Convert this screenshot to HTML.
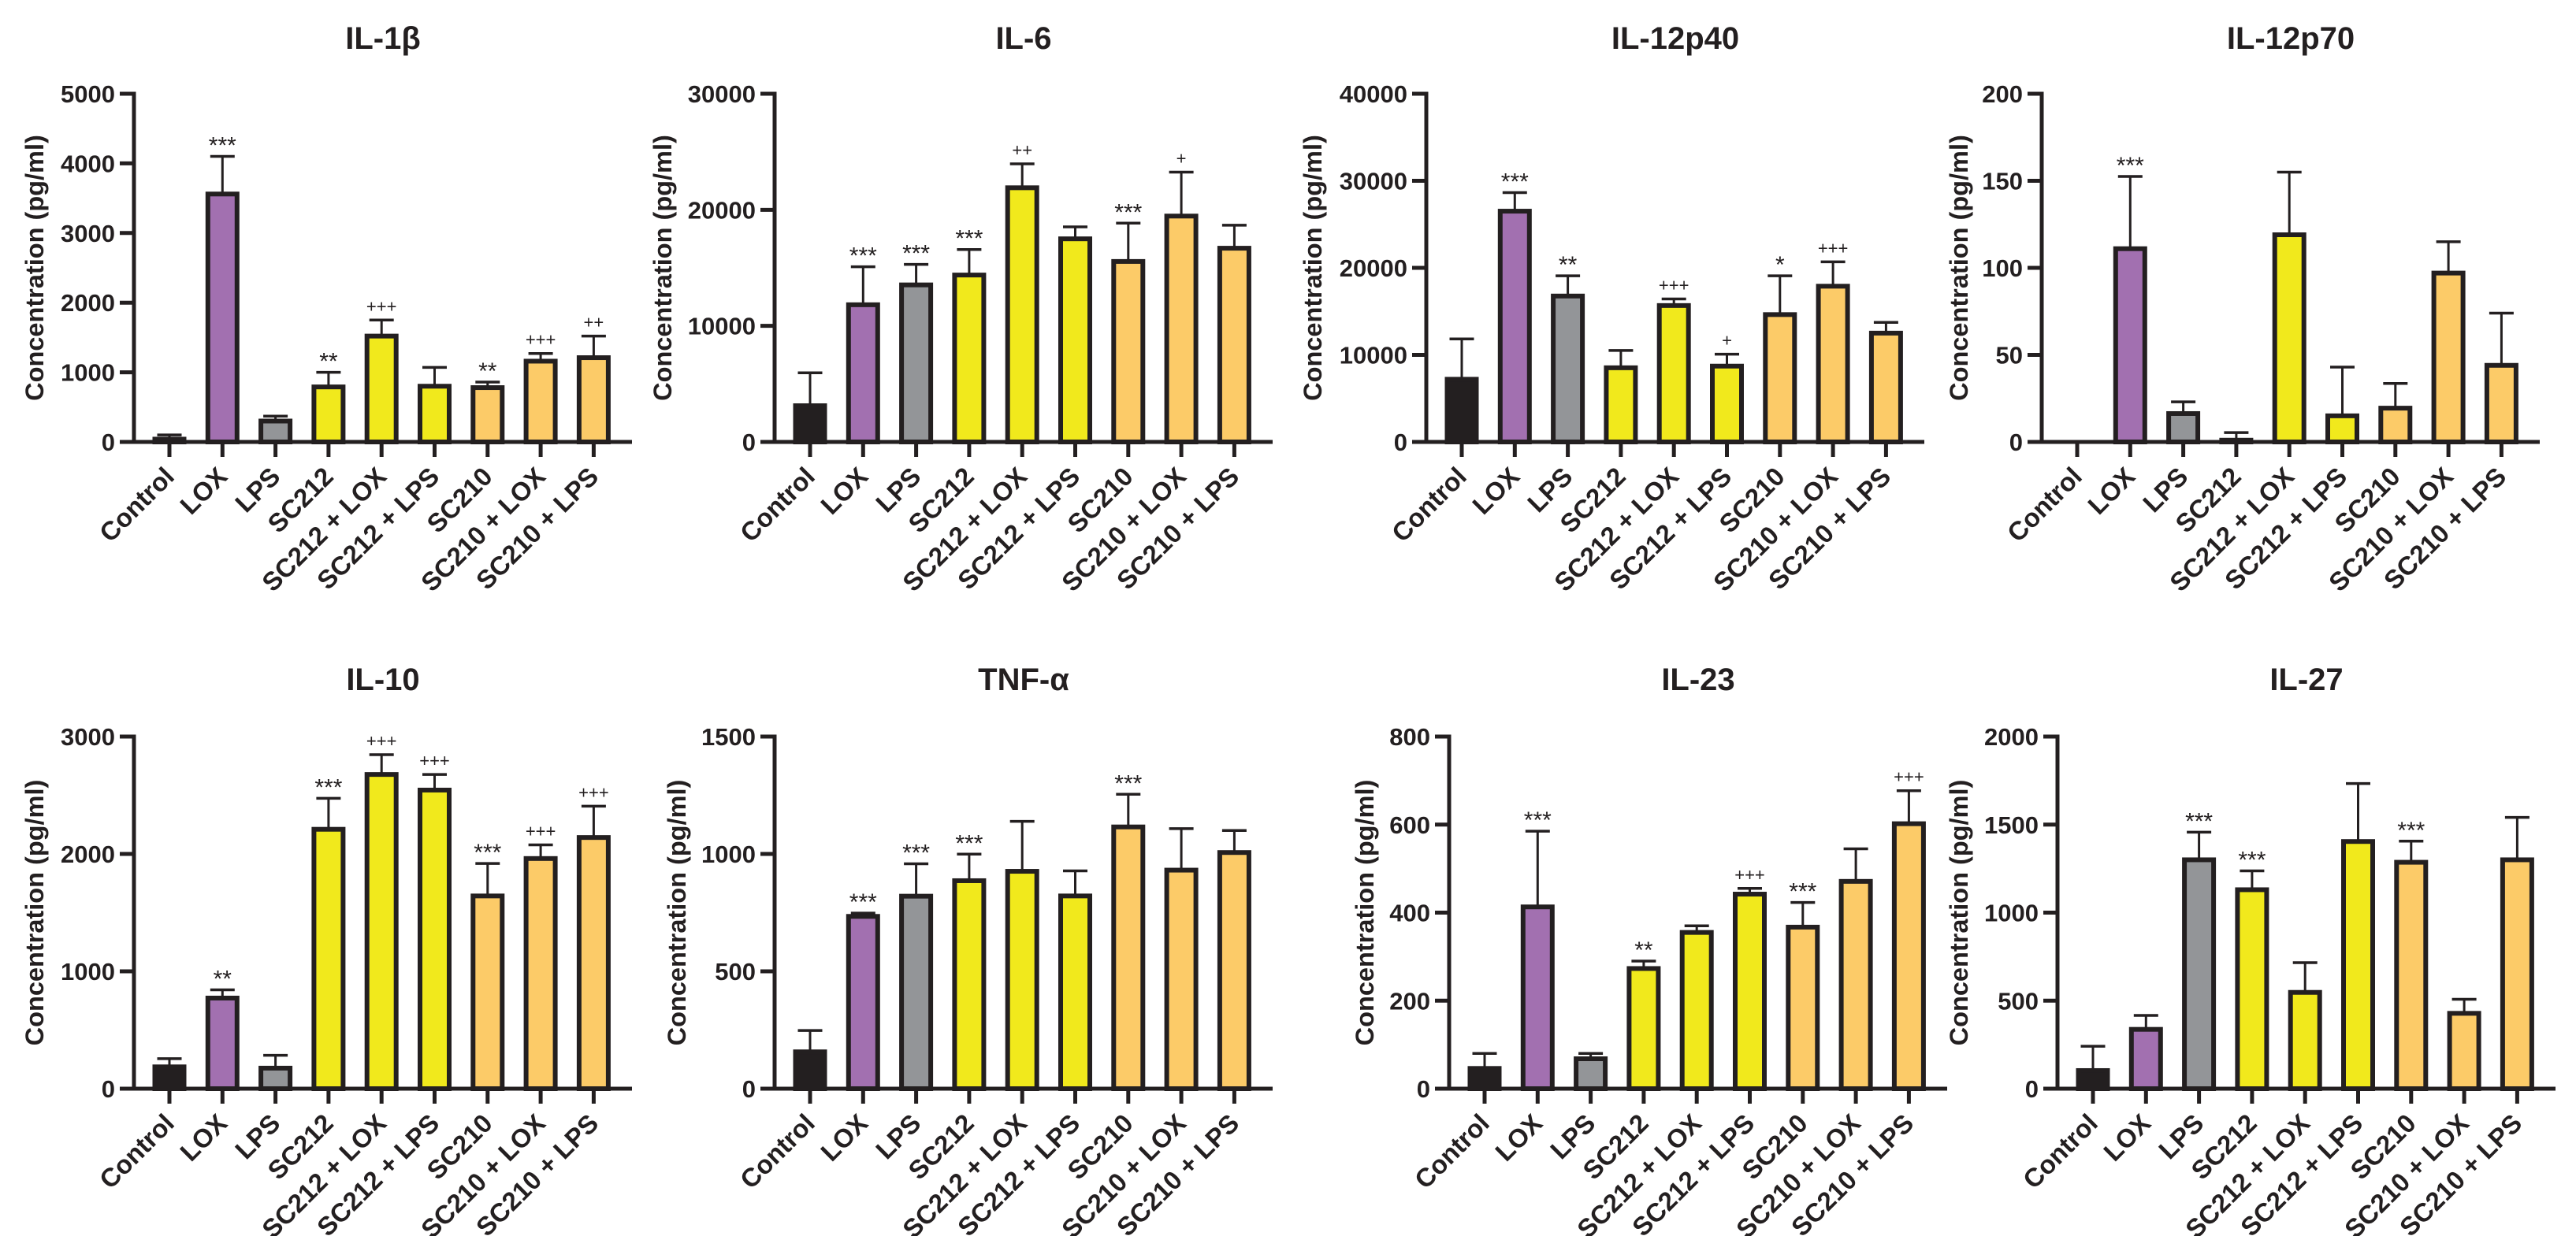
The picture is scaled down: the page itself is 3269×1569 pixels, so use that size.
<!DOCTYPE html>
<html><head><meta charset="utf-8"><style>
html,body{margin:0;padding:0;background:#fff;}
svg{display:block;font-family:"Liberation Sans",Arial,sans-serif;}
</style></head><body>
<svg id="fig" width="3269" height="1569" viewBox="0 0 3269 1569" xmlns="http://www.w3.org/2000/svg"></svg>
<script>
const categories = ["Control","LOX","LPS","SC212","SC212 + LOX","SC212 + LPS","SC210","SC210 + LOX","SC210 + LPS"];
const barColors = ["#231f20","#a270b0","#939598","#f1e91c","#f1e91c","#f1e91c","#fccb68","#fccb68","#fccb68"];

const il1bValues = [40,3560,300,790,1520,800,780,1160,1210];
const il1bErrors = [100,4100,370,1000,1750,1070,860,1270,1520];
const il1bSig = ["","***","","**","+++","","**","+++","++"];
const il1bTicks = [0,1000,2000,3000,4000,5000];

const il6Values = [3120,11820,13530,14380,21900,17500,15550,19460,16690];
const il6Errors = [5960,15090,15300,16580,23960,18530,18850,23250,18670];
const il6Sig = ["","***","***","***","++","","***","+",""];
const il6Ticks = [0,10000,20000,30000];

const il12p40Values = [7200,26510,16760,8520,15670,8710,14630,17890,12500];
const il12p40Errors = [11830,28640,19080,10510,16430,10080,19080,20690,13730];
const il12p40Sig = ["","***","**","","+++","+","*","+++",""];
const il12p40Ticks = [0,10000,20000,30000,40000];

const il12p70Values = [0,111,16.3,1,119,15,19.4,97,44];
const il12p70Errors = [0,152.5,23,5.4,155,43,33.6,115,74];
const il12p70Sig = ["","***","","","","","","",""];
const il12p70Ticks = [0,50,100,150,200];

const il10Values = [186,772,175,2210,2677,2544,1642,1961,2140];
const il10Errors = [256,842,284,2474,2846,2677,1919,2077,2407];
const il10Sig = ["","**","","***","+++","+++","***","+++","+++"];
const il10Ticks = [0,1000,2000,3000];

const tnfValues = [157,734,820,886,926,821,1115,931,1006];
const tnfErrors = [248,748,958,999,1139,928,1254,1108,1100];
const tnfSig = ["","***","***","***","","","***","",""];
const tnfTicks = [0,500,1000,1500];

const il23Values = [46,413,68,273,355,442,367,471,602];
const il23Errors = [80,585,80,290,370,455,423,545,677];
const il23Sig = ["","***","","**","","+++","***","","+++"];
const il23Ticks = [0,200,400,600,800];

const il27Values = [103,337,1300,1130,547,1404,1286,428,1300];
const il27Errors = [241,416,1457,1237,716,1733,1406,508,1541];
const il27Sig = ["","","***","***","","","***","",""];
const il27Ticks = [0,500,1000,1500,2000];

const NS = "http://www.w3.org/2000/svg";
const svg = document.getElementById("fig");
function mk(tag, attrs, parent, text){
  const e = document.createElementNS(NS, tag);
  for (const k in attrs) e.setAttribute(k, attrs[k]);
  if (text !== undefined) e.textContent = text;
  parent.appendChild(e);
  return e;
}
const INK = "#231f20";

function drawPanel(key, title, ax, top, zero, titleY, ytX, values, errors, sig, ticks){
  const g = mk("g", {}, svg);
  
  
  const ymax = ticks[ticks.length-1];
  const yScale = v => zero - (v / ymax) * (zero - top);
  const step = 67.3, x0 = ax + 45, axEnd = ax + 632;
  const xScale = i => x0 + i * step;

  const t = mk("text", {x:(ax+axEnd)/2, y:titleY, "text-anchor":"middle", "font-size":40, "font-weight":"bold", fill:INK}, g, title);
  
  

  const yt = mk("text", {x:ytX, y:(top+zero)/2, "text-anchor":"middle", "dominant-baseline":"central", "font-size":32.5, "font-weight":"bold", fill:INK, transform:`rotate(-90 ${ytX} ${(top+zero)/2})`}, g, "Concentration (pg/ml)");
  
  

  values.forEach((v,i)=>{
    const cx = xScale(i), y = yScale(v), ye = yScale(errors[i]);
    if (errors[i] > v) {
      const eb = mk("g", {}, g);
      
      
      mk("line", {x1:cx, x2:cx, y1:y, y2:ye, stroke:INK, "stroke-width":3}, eb);
      mk("line", {x1:cx-15.5, x2:cx+15.5, y1:ye, y2:ye, stroke:INK, "stroke-width":3.5}, eb);
    }
    if (v > 0) {
      const r = mk("rect", {x:cx-18.5, y:y, width:37, height:Math.max(zero-y,0.1), fill:barColors[i], stroke:INK, "stroke-width":6}, g);
      
      
    }
    if (sig[i]) {
      const isPlus = sig[i][0] === "+";
      const st = mk("text", {x:cx, y: isPlus ? ye-10 : ye-4, "text-anchor":"middle", "font-size": isPlus ? 22 : 30, fill:INK}, g, sig[i]);
      
      
    }
  });

  const yAxis = mk("line", {x1:ax, x2:ax, y1:top-2.5, y2:zero+2.5, stroke:INK, "stroke-width":5}, g);
  
  
  const xAxis = mk("line", {x1:ax-18, x2:axEnd, y1:zero, y2:zero, stroke:INK, "stroke-width":5}, g);
  
  

  ticks.forEach(tv=>{
    const y = yScale(tv);
    mk("line", {x1:ax-18, x2:ax, y1:y, y2:y, stroke:INK, "stroke-width":5}, g);
    const tl = mk("text", {x:ax-24, y:y+11, "text-anchor":"end", "font-size":31, "font-weight":"bold", fill:INK}, g, String(tv));
    
    
  });

  categories.forEach((c,i)=>{
    const cx = xScale(i);
    mk("line", {x1:cx, x2:cx, y1:zero, y2:zero+19, stroke:INK, "stroke-width":5}, g);
    const lx = cx + 8, ly = zero + 46;
    const cl = mk("text", {x:lx, y:ly, "text-anchor":"end", "font-size":33, "font-weight":"bold", fill:INK, transform:`rotate(-45 ${lx} ${ly})`}, g, c);
    
    
  });
}

drawPanel("il-1b", "IL-1\u03B2", 170, 119, 561, 62, 44, il1bValues, il1bErrors, il1bSig, il1bTicks);
drawPanel("il-6", "IL-6", 983, 119, 561, 62, 841, il6Values, il6Errors, il6Sig, il6Ticks);
drawPanel("il-12p40", "IL-12p40", 1810, 119, 561, 62, 1666, il12p40Values, il12p40Errors, il12p40Sig, il12p40Ticks);
drawPanel("il-12p70", "IL-12p70", 2591, 119, 561, 62, 2486, il12p70Values, il12p70Errors, il12p70Sig, il12p70Ticks);
drawPanel("il-10", "IL-10", 170, 935, 1382, 876, 44, il10Values, il10Errors, il10Sig, il10Ticks);
drawPanel("tnf-a", "TNF-\u03B1", 983, 935, 1382, 876, 859, tnfValues, tnfErrors, tnfSig, tnfTicks);
drawPanel("il-23", "IL-23", 1839, 935, 1382, 876, 1732, il23Values, il23Errors, il23Sig, il23Ticks);
drawPanel("il-27", "IL-27", 2611, 935, 1382, 876, 2486, il27Values, il27Errors, il27Sig, il27Ticks);
</script>
</body></html>
